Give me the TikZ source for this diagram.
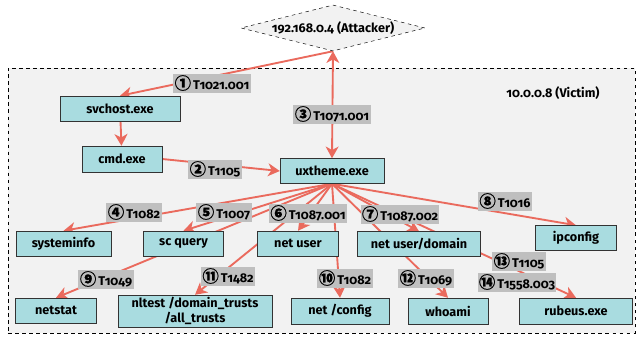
\documentclass[tikz,border=0pt]{standalone}
\usepackage{fontspec}
\setmainfont[Numbers=OldStyle]{Fira Sans}
\newfontfamily\circfont[FakeBold=0.8]{Noto Sans CJK SC}
\usetikzlibrary{shapes.geometric, arrows.meta, positioning}

\definecolor{boxcyan}{HTML}{A9DCE0}
\definecolor{edgered}{HTML}{EA6A5D}
\definecolor{taggray}{HTML}{BFBFBF}
\definecolor{zonegray}{HTML}{F2F2F2}
\newcommand{\stepno}[1]{{\circfont\fontsize{14}{12}\selectfont #1}\,}

\pgfdeclarelayer{back}
\pgfdeclarelayer{edges}
\pgfsetlayers{back,edges,main}

\begin{document}
\begin{tikzpicture}[x=0.03cm, y=-0.03cm,
    proc/.style={rectangle, draw=black!80, fill=boxcyan, minimum height=0.75cm, inner sep=1pt, font=\bfseries\fontsize{10.8}{13}\selectfont},
    host/.style={diamond, draw, dashed, fill=zonegray, aspect=4, inner sep=0pt, minimum width=5.52cm, minimum height=1.38cm, font=\bfseries\fontsize{10.8}{12}\selectfont},
    zone/.style={rectangle, draw, dashed, fill=zonegray, minimum width=18.81cm, minimum height=7.95cm},
    tag/.style={rectangle, fill=taggray, inner sep=1.2pt, minimum height=0.57cm, font=\bfseries\fontsize{10.8}{12}\selectfont},
    >={Stealth[length=10pt, width=11pt, inset=3pt]},
    flow/.style={->, draw=edgered, line width=1.6pt},
    twoway/.style={<->, draw=edgered, line width=1.6pt}
]
\useasboundingbox (0,0) rectangle (636,337);

% Hosts
\node[host] (attacker) at (333,28) {192.168.0.4 (Attacker)};
\begin{pgfonlayer}{back}
\node[zone] (victim) at (321.5,200.5) {};
\end{pgfonlayer}
\node[font=\bfseries\fontsize{10.8}{12}\selectfont] (victimname) at (553,93) {10.0.0.8 (Victim)};

% Processes
\node[proc, minimum width=3.6cm] (svchost) at (120,108.5) {svchost.exe};
\node[proc, minimum width=2.4cm, minimum height=0.78cm] (cmd) at (122,159) {cmd.exe};
\node[proc, minimum width=3.12cm] (uxtheme) at (332,171) {uxtheme.exe};

% Commands
\node[proc, minimum width=2.85cm] (systeminfo) at (63.5,243.5) {systeminfo};
\node[proc, minimum width=2.4cm] (scquery) at (183.5,243.5) {sc query};
\node[proc, minimum width=2.43cm] (netuser) at (298,243.5) {net user};
\node[proc, minimum width=3.69cm] (netdomain) at (419,244) {net user/domain};
\node[proc, minimum width=2.43cm] (ipconfig) at (576,238) {ipconfig};
\node[proc, minimum width=2.43cm] (netstat) at (56,310.5) {netstat};
\node[proc, minimum width=4.62cm, minimum height=0.96cm, inner sep=0pt, align=center] (nltest) at (195,311) {nltest /domain\_trusts\\/all\_trusts};
\node[proc, minimum width=2.94cm, minimum height=0.78cm] (netconfig) at (340,311) {net /config};
\node[proc, minimum width=2.4cm, minimum height=0.78cm] (whoami) at (448,311) {whoami};
\node[proc, minimum width=3.39cm, minimum height=0.78cm] (rubeus) at (576,311) {rubeus.exe};

% Connections
\begin{pgfonlayer}{edges}
\draw[flow] (attacker.south) -- (svchost.north);
\draw[flow] (svchost) -- (cmd);
\draw[flow] (cmd.east) -- (uxtheme.west);
\draw[twoway] (uxtheme.north) -- (attacker.south);
\draw[flow] (uxtheme.south) -- (systeminfo.north);
\draw[flow] (uxtheme.south) -- (scquery.north);
\draw[flow] (uxtheme.south) -- (netuser.north);
\draw[flow] (uxtheme.south) -- (netdomain.north);
\draw[flow] (uxtheme.south) -- (ipconfig.north);
\draw[flow] (uxtheme.south) -- (netstat.north);
\draw[flow] (uxtheme.south) -- (netconfig.north);
\draw[flow] (uxtheme.south) -- (nltest.north);
\draw[flow] (uxtheme.south) -- (whoami.north);
\draw[flow] (uxtheme.south) -- (rubeus.north);
\end{pgfonlayer}

% Techniques
\node[tag] (t1) at (212,83) {\stepno{①}T1021.001};
\node[tag] (t2) at (215,169) {\stepno{②}T1105};
\node[tag] (t3) at (332,114) {\stepno{③}T1071.001};
\node[tag] (t4) at (134,212) {\stepno{④}T1082};
\node[tag] (t5) at (224,212) {\stepno{⑤}T1007};
\node[tag] (t6) at (308,213) {\stepno{⑥}T1087.001};
\node[tag] (t7) at (400,214) {\stepno{⑦}T1087.002};
\node[tag] (t8) at (505,201) {\stepno{⑧}T1016};
\node[tag] (t9) at (106,279) {\stepno{⑨}T1049};
\node[tag] (t10) at (345,278) {\stepno{⑩}T1082};
\node[tag] (t11) at (228,276) {\stepno{⑪}T1482};
\node[tag] (t12) at (426,278) {\stepno{⑫}T1069};
\node[tag] (t13) at (519,261) {\stepno{⑬}T1105};
\node[tag] (t14) at (517,282) {\stepno{⑭}T1558.003};

\end{tikzpicture}
\end{document}
